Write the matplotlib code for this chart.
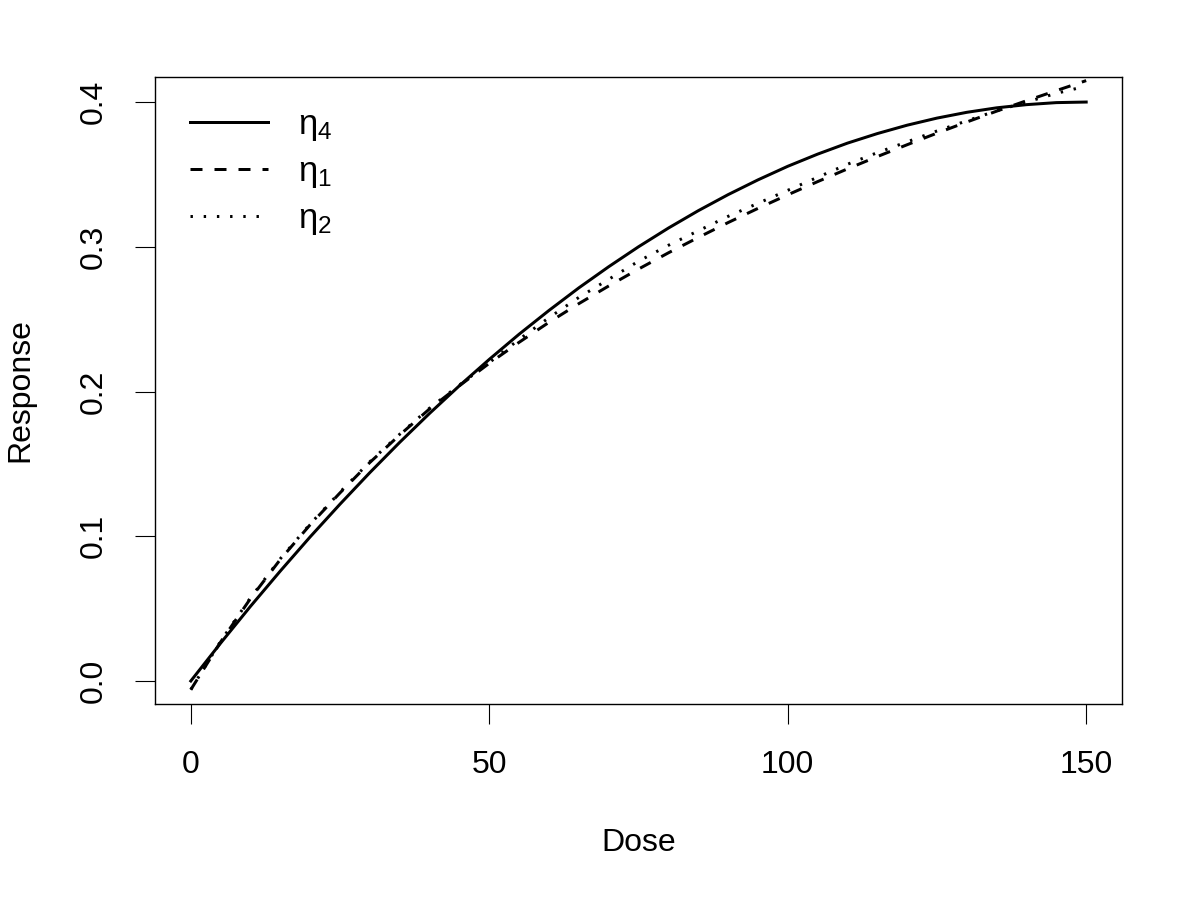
import matplotlib
matplotlib.use("Agg")
import matplotlib.pyplot as plt

# ---- data ----
dose = [0, 5, 10, 15, 20, 25, 30, 35, 40, 45, 50, 55, 60, 65, 70, 75,
        80, 85, 90, 95, 100, 105, 110, 115, 120, 125, 130, 135, 140, 145, 150]

eta4 = [0.0, 0.0262, 0.0516, 0.0760, 0.0996, 0.1222, 0.1440, 0.1649,
        0.1849, 0.2040, 0.2222, 0.2396, 0.2560, 0.2716, 0.2862, 0.3000,
        0.3129, 0.3249, 0.3360, 0.3462, 0.3556, 0.3640, 0.3716, 0.3782,
        0.3840, 0.3889, 0.3929, 0.3960, 0.3982, 0.3996, 0.4000]

eta1 = [-0.0060, 0.0270, 0.0570, 0.0840, 0.1080, 0.1300, 0.1510, 0.1700,
        0.1880, 0.2040, 0.2195, 0.2340, 0.2478, 0.2607, 0.2729, 0.2846,
        0.2958, 0.3064, 0.3167, 0.3265, 0.3359, 0.3450, 0.3538, 0.3623,
        0.3705, 0.3785, 0.3862, 0.3937, 0.4009, 0.4079, 0.4148]

eta2 = [-0.0060, 0.0275, 0.0575, 0.0845, 0.1085, 0.1305, 0.1515, 0.1705,
        0.1885, 0.2045, 0.2200, 0.2360, 0.2510, 0.2650, 0.2775, 0.2900,
        0.3010, 0.3110, 0.3210, 0.3300, 0.3390, 0.3480, 0.3570, 0.3650,
        0.3725, 0.3800, 0.3870, 0.3940, 0.4000, 0.4060, 0.4110]

labels = [r"$\eta_4$", r"$\eta_1$", r"$\eta_2$"]
xticks = [0, 50, 100, 150]
yticks = [0.0, 0.1, 0.2, 0.3, 0.4]
ytick_labels = ["0.0", "0.1", "0.2", "0.3", "0.4"]

# ---- style ----
plt.rcParams['font.family'] = ['Liberation Sans', 'DejaVu Sans']
plt.rcParams['mathtext.fontset'] = 'custom'
plt.rcParams['mathtext.rm'] = 'Liberation Sans'
plt.rcParams['mathtext.it'] = 'Liberation Sans'
plt.rcParams['mathtext.default'] = 'regular'

FS = 23
LW = 2.16

fig = plt.figure(figsize=(12, 9), dpi=100)
ax = fig.add_axes([155/1200, (900-704)/900, (1122-155)/1200, (704-77)/900])

ax.plot(dose, eta4, color='black', lw=LW, linestyle='-', label=labels[0])
ax.plot(dose, eta1, color='black', lw=LW, linestyle=(0, (4, 4)), label=labels[1])
ax.plot(dose, eta2, color='black', lw=LW, linestyle=(0, (0.8, 3.6)), label=labels[2])

ax.set_xlim(-6, 156)
ax.set_ylim(-0.0159, 0.4173)
ax.set_xticks(xticks)
ax.set_xticklabels([str(t) for t in xticks])
ax.set_yticks(yticks)
ax.set_yticklabels(ytick_labels)

ax.tick_params(axis='both', direction='out', length=14.4, width=0.8,
               pad=19, labelsize=FS, colors='black')
ax.tick_params(axis='y', labelrotation=90)
for lab in ax.get_yticklabels():
    lab.set_va('center')

for sp in ax.spines.values():
    sp.set_linewidth(1.0)
    sp.set_color('black')

ax.set_xlabel("Dose", fontsize=FS)
ax.set_ylabel("Response", fontsize=FS)
ax.xaxis.label.set_va('center')
ax.yaxis.label.set_va('center')
ax.xaxis.set_label_coords(0.5, (704-843)/627)
ax.yaxis.set_label_coords((20-155)/967, 0.5)

leg = ax.legend(loc='upper left', bbox_to_anchor=(35/967, 1 - 31/627),
                frameon=False, fontsize=FS + 2, handlelength=2.25,
                handletextpad=0.85, labelspacing=0.35, borderpad=0,
                borderaxespad=0)

fig.savefig("out.png", dpi=100, facecolor='white')
